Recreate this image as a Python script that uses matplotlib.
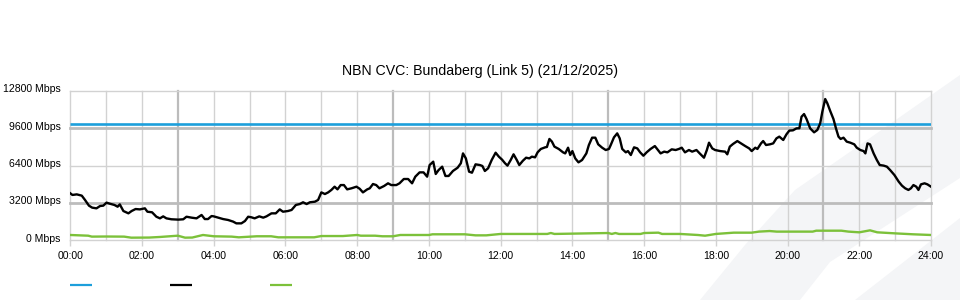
import matplotlib
matplotlib.use("Agg")
import matplotlib.pyplot as plt
from matplotlib.lines import Line2D
from matplotlib.patches import Polygon
from matplotlib.transforms import ScaledTranslation

plt.rcParams["font.family"] = ["Liberation Sans", "DejaVu Sans"]

TITLE = "NBN CVC: Bundaberg (Link 5) (21/12/2025)"

# capacity line (Mbps)
capacity_mbps = 10000

# traffic (black), hours since 00:00
traffic_hours = [
    0.00, 0.06, 0.18, 0.32, 0.41, 0.52, 0.61, 0.73, 0.83, 0.92, 1.01, 1.10, 1.23, 1.32, 1.38,
    1.48, 1.62, 1.71, 1.82, 1.94, 2.08, 2.15, 2.28, 2.40, 2.50, 2.59, 2.68, 2.82, 3.01, 3.15,
    3.24, 3.38, 3.52, 3.66, 3.75, 3.84, 3.94, 4.00, 4.12, 4.26, 4.40, 4.54, 4.63, 4.77, 4.87,
    4.96, 5.05, 5.14, 5.27, 5.38, 5.47, 5.61, 5.73, 5.84, 5.93, 6.07, 6.17, 6.29, 6.40, 6.49,
    6.59, 6.68, 6.82, 6.91, 7.00, 7.10, 7.19, 7.28, 7.37, 7.45, 7.54, 7.63, 7.72, 7.84, 7.98,
    8.07, 8.16, 8.28, 8.35, 8.44, 8.53, 8.62, 8.75, 8.86, 8.95, 9.09, 9.18, 9.30, 9.42, 9.53,
    9.62, 9.74, 9.85, 9.95, 10.02, 10.12, 10.19, 10.27, 10.37, 10.46, 10.55, 10.67, 10.80,
    10.89, 10.95, 11.03, 11.12, 11.20, 11.30, 11.42, 11.49, 11.56, 11.65, 11.75, 11.86, 11.95,
    12.04, 12.12, 12.19, 12.28, 12.36, 12.45, 12.52, 12.62, 12.71, 12.80, 12.87, 12.96, 13.03,
    13.12, 13.24, 13.29, 13.36, 13.43, 13.50, 13.62, 13.74, 13.80, 13.88, 13.94, 14.00, 14.08,
    14.17, 14.27, 14.39, 14.46, 14.55, 14.64, 14.72, 14.83, 14.93, 15.02, 15.07, 15.16, 15.25,
    15.32, 15.39, 15.49, 15.55, 15.63, 15.72, 15.81, 15.89, 15.98, 16.07, 16.18, 16.30, 16.46,
    16.56, 16.65, 16.77, 16.88, 16.97, 17.05, 17.14, 17.25, 17.34, 17.46, 17.55, 17.67, 17.75,
    17.81, 17.90, 17.98, 18.12, 18.26, 18.32, 18.39, 18.48, 18.60, 18.70, 18.82, 18.93, 19.00,
    19.10, 19.16, 19.26, 19.32, 19.40, 19.51, 19.60, 19.69, 19.77, 19.88, 19.97, 20.05, 20.15,
    20.25, 20.33, 20.39, 20.46, 20.53, 20.63, 20.74, 20.83, 20.91, 20.97, 21.05, 21.11, 21.19,
    21.28, 21.35, 21.42, 21.48, 21.56, 21.65, 21.75, 21.86, 21.93, 22.03, 22.12, 22.17, 22.23,
    22.30, 22.40, 22.49, 22.57, 22.68, 22.77, 22.86, 22.98, 23.10, 23.19, 23.28, 23.37, 23.44,
    23.51, 23.59, 23.65, 23.72, 23.82, 23.90, 24.00,
]
traffic_mbps = [
    4010, 3870, 3920, 3810, 3440, 2950, 2780, 2720, 2920, 2950, 3210, 3120, 3010, 2860, 3060,
    2490, 2290, 2490, 2660, 2630, 2720, 2430, 2380, 2000, 1860, 2030, 1860, 1780, 1750, 1780,
    2000, 1920, 1860, 2150, 1800, 1800, 2060, 2030, 1920, 1800, 1720, 1580, 1430, 1430, 1630,
    2000, 1950, 1860, 2030, 1920, 2030, 2290, 2290, 2630, 2430, 2490, 2580, 3010, 3090, 3240,
    3090, 3240, 3290, 3440, 4090, 3950, 4090, 4300, 4580, 4350, 4720, 4720, 4350, 4440, 4580,
    4400, 4090, 4350, 4440, 4810, 4720, 4440, 4640, 4870, 4720, 4720, 4870, 5240, 5240, 4870,
    5440, 5810, 5810, 5440, 6440, 6730, 5670, 6010, 6300, 5500, 5500, 5930, 6210,
    6590, 7440, 7010, 5870, 5780, 6500, 6440, 6360, 5930, 6160, 6870, 7500, 7160,
    6900, 6600, 6390, 6870, 7360, 6870, 6440, 6810, 7070, 7010, 7160, 7100, 7530,
    7820, 7960, 7990, 8680, 8450, 8020, 7820, 7530, 7440, 7930, 7300, 7640, 7010,
    6670, 6870, 7440, 8160, 8790, 8790, 8220, 7930, 7730, 7820, 8160, 8820, 9160,
    8730, 7820, 7530, 7640, 7300, 7960, 7870, 7530, 7240, 7530, 7820, 8070, 7440,
    7590, 7530, 7790, 7730, 7820, 7930, 7530, 7730, 7590, 7730, 7440, 7070, 7730,
    8360, 7870, 7730, 7640, 7590, 7360, 8020, 8250, 8500, 8300, 8070, 7870, 7640,
    7930, 7820, 8300, 8500, 8160, 8220, 8300, 8730, 8880, 8590, 9080, 9400, 9420,
    9590, 9600, 10590, 10820, 10390, 9590, 9250, 9450, 10020, 11020, 12110, 11740, 11080,
    10390, 9590, 8880, 8680, 8790, 8450, 8360, 8220, 7930, 7730, 7640, 7440, 8300,
    8220, 7440, 6870, 6440, 6390, 6300, 6010, 5580, 5010, 4670, 4440, 4300, 4440,
    4720, 4580, 4300, 4780, 4870, 4780, 4580,
]

# second series (green)
green_hours = [
    0.0, 0.5, 0.6, 1.0, 1.5, 1.7, 2.2, 2.5, 3.0, 3.2, 3.4, 3.7, 4.0, 4.5, 4.7, 5.2, 5.6, 5.8,
    6.8, 7.0, 7.6, 8.0, 8.1, 8.5, 8.7, 9.0, 9.2, 10.0, 10.1, 11.0, 11.3, 11.6, 12.0, 13.3,
    13.4, 13.5, 15.0, 15.1, 15.2, 15.3, 15.9, 16.0, 16.4, 16.5, 17.0, 17.5, 17.7, 18.0, 18.5,
    19.0, 19.2, 19.5, 19.7, 20.7, 20.8, 21.5, 21.7, 22.0, 22.3, 22.5, 23.0, 23.5, 24.0,
]
green_mbps = [
    430, 370, 290, 300, 290, 200, 210, 260, 370, 200, 210, 430, 320, 290, 230, 320, 320, 230,
    230, 340, 340, 430, 370, 370, 320, 320, 430, 430, 490, 490, 400, 400, 520, 520,
    600, 520, 600, 520, 600, 520, 520, 600, 630, 520, 520, 430, 370, 520, 630,
    630, 720, 770, 720, 720, 800, 800, 720, 660, 830, 660, 570, 490, 430,
]

y_ticks = [0, 3200, 6400, 9600, 12800]
x_ticks = list(range(0, 25, 2))
x_tick_labels = [f"{h:02d}:00" for h in x_ticks]

BLUE = "#1d9fdb"
GREEN = "#7cc13a"
GRID_LIGHT = "#d2d2d2"
GRID_DARK = "#bcbcbc"
SHADE = "#f4f5f7"

W, H = 960, 300
fig = plt.figure(figsize=(W / 100, H / 100), dpi=100)


def fx(px):
    return px / W


def fy(py):
    return 1 - py / H


# faint watermark shapes behind the chart
band_px = [(700, 300), (745, 245), (795, 190), (870, 138), (960, 75), (960, 178), (830, 262), (800, 300)]
lower_px = [(855, 300), (960, 218), (960, 300)]
for pts in (band_px, lower_px):
    fig.patches.append(Polygon([(fx(x), fy(y)) for x, y in pts], closed=True,
                               transform=fig.transFigure, facecolor=SHADE, edgecolor="none", zorder=0))

ax = fig.add_axes([fx(70.3), fy(240), fx(931) - fx(70.3), fy(91) - fy(240)])
ax.set_zorder(2)
ax.set_facecolor("none")
ax.set_xlim(0, 24)
ax.set_ylim(0, 12800)

# grid
for h in range(25):
    dark = h % 6 == 3
    ax.axvline(h, color=GRID_DARK if dark else GRID_LIGHT, lw=1.6 if dark else 1.0, zorder=1, clip_on=False)
for v in y_ticks:
    dark = v in (3200, 9600)
    ax.axhline(v, color=GRID_DARK if dark else GRID_LIGHT, lw=2.0 if dark else 1.0, zorder=1, clip_on=False)

for s in ax.spines.values():
    s.set_visible(False)

ax.plot([0, 24], [capacity_mbps, capacity_mbps], color=BLUE, lw=1.9, zorder=3, solid_capstyle="butt")
ax.plot(traffic_hours, traffic_mbps, color="black", lw=1.7, zorder=4)
ax.plot(green_hours, green_mbps, color=GREEN, lw=1.7, zorder=3)

ax.set_xticks(x_ticks)
ax.set_xticklabels(x_tick_labels)
ax.set_yticks(y_ticks)
ax.set_yticklabels([f"{v} Mbps" for v in y_ticks])
ax.tick_params(axis="x", length=4, width=1, color=GRID_LIGHT, pad=4, labelsize=7.6)
ax.tick_params(axis="y", length=0, pad=7, labelsize=7.6)
shift_up = ScaledTranslation(0, 2.5 / 100, fig.dpi_scale_trans)
for lab in ax.get_yticklabels():
    lab.set_transform(lab.get_transform() + shift_up)

fig.text(0.5, fy(71), TITLE, ha="center", va="center", fontsize=10.2)

# legend swatches (labels are blank in the source)
for x0, c in [(69.5, BLUE), (169.5, "black"), (269.5, GREEN)]:
    fig.add_artist(Line2D([fx(x0), fx(x0 + 22)], [fy(285), fy(285)], color=c, lw=1.6,
                          transform=fig.transFigure, solid_capstyle="butt"))

fig.savefig("out.png", dpi=100)
